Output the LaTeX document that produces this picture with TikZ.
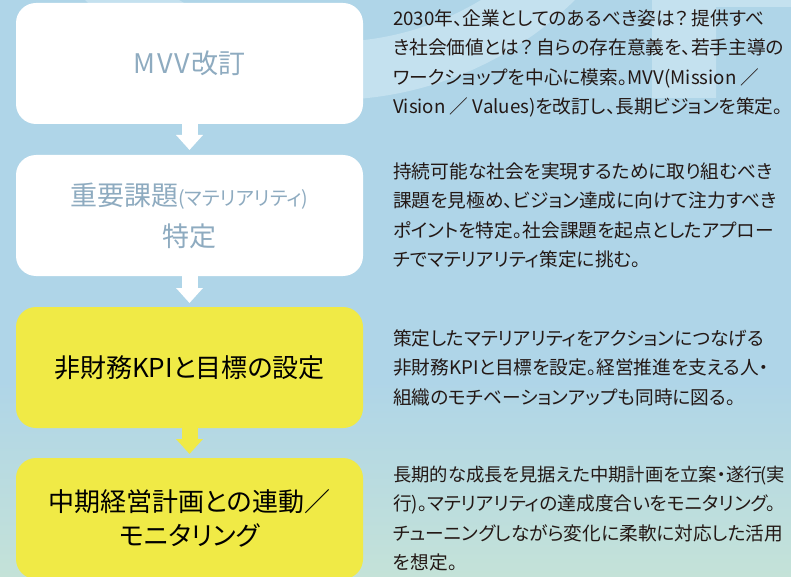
\documentclass[tikz,border=0pt]{standalone}
\usepackage{fontspec}
\setmainfont{Noto Sans CJK JP}[RawFeature=+palt]
\usepackage{tikz}
\usetikzlibrary{arrows.meta, positioning}
\definecolor{bgblue}{HTML}{AFD5E8}
\definecolor{bggreen}{HTML}{C4E2D8}
\definecolor{bglight}{HTML}{C4E1EF}
\definecolor{stepyellow}{HTML}{F0EA46}
\definecolor{stepgray}{HTML}{8EABC0}
\definecolor{bodyink}{HTML}{231815}

\begin{document}
\begin{tikzpicture}[x=1pt, y=1pt,
    stepbox/.style={rounded corners=20pt, minimum width=347pt, minimum height=121pt, inner sep=0pt, outer sep=0pt, align=center, font=\fontsize{26}{34}\selectfont},
    whitebox/.style={stepbox, fill=white, text=stepgray},
    yellowbox/.style={stepbox, fill=stepyellow, text=black},
    desc/.style={anchor=west, align=left, text=bodyink, inner sep=0pt, font=\fontsize{18.7}{29.5}\selectfont},
    flow/.style={line width=16pt, -{Triangle[width=26pt, length=15pt]}}]
    \useasboundingbox (0,0) rectangle (791,-577);
    \fill[bgblue] (0,0) rectangle (791,-380);
    \shade[top color=bgblue, bottom color=bggreen] (0,-380) rectangle (791,-577);
    \begin{scope}
        \clip (0,0) rectangle (791,-577);
        \fill[bglight, even odd rule] (330,250) circle[radius=350] (330,250) circle[radius=292];
        \fill[bglight] (652,0) rectangle (716,-98) (716,0) rectangle (791,-7);
    \end{scope}

    \node[whitebox, font=\fontsize{27}{34}\selectfont] (mvv) at (189.5,-63.5) {M\hspace{.06em}V\hspace{.06em}V\hspace{.06em}改訂};
    \node[whitebox, below=31pt of mvv, font=\fontsize{27}{41}\selectfont] (materiality) {重要課題{\fontsize{19.5}{41}\selectfont(マテリアリティ)}\\特定};
    \node[yellowbox, below=31pt of materiality] (kpi) {非財務KPIと目標の設定};
    \node[yellowbox, below=30pt of kpi] (plan) {中期経営計画との連動／\\モニタリング};

    \draw[flow, white] (mvv.south) -- ([yshift=5pt]materiality.north);
    \draw[flow, white] (materiality.south) -- ([yshift=4pt]kpi.north);
    \draw[flow, stepyellow] (kpi.south) -- ([yshift=4pt]plan.north);

    \node[desc, right=30pt of mvv] (mvvtext) {2030年、企業としてのあるべき姿は？\hspace{.2em}提供すべ\\き社会価値とは？\hspace{.2em}自らの存在意義を、若手主導の\\ワークショップを中心に模索。MVV(Mission ／\\Vision ／ Values)を改訂し、長期ビジョンを策定。};
    \node[desc, right=30pt of materiality] (materialitytext) {持続可能な社会を実現するために取り組むべき\\課題を見極め、ビジョン達成に向けて注力すべき\\ポイントを特定。社会課題を起点としたアプロー\\チでマテリアリティ策定に挑む。};
    \node[desc, right=30pt of kpi] (kpitext) {策定したマテリアリティをアクションにつなげる\\非財務KPIと目標を設定。経営推進を支える人・\\組織のモチベーションアップも同時に図る。};
    \node[desc, right=30pt of plan] (plantext) {{\fontsize{18.3}{29.5}\selectfont 長期的な成長を見据えた中期計画を立案・遂行\kern-.1em(実}\\行)。マテリアリティの達成度合いをモニタリング。\\チューニングしながら変化に柔軟に対応した活用\\を想定。};
\end{tikzpicture}
\end{document}
